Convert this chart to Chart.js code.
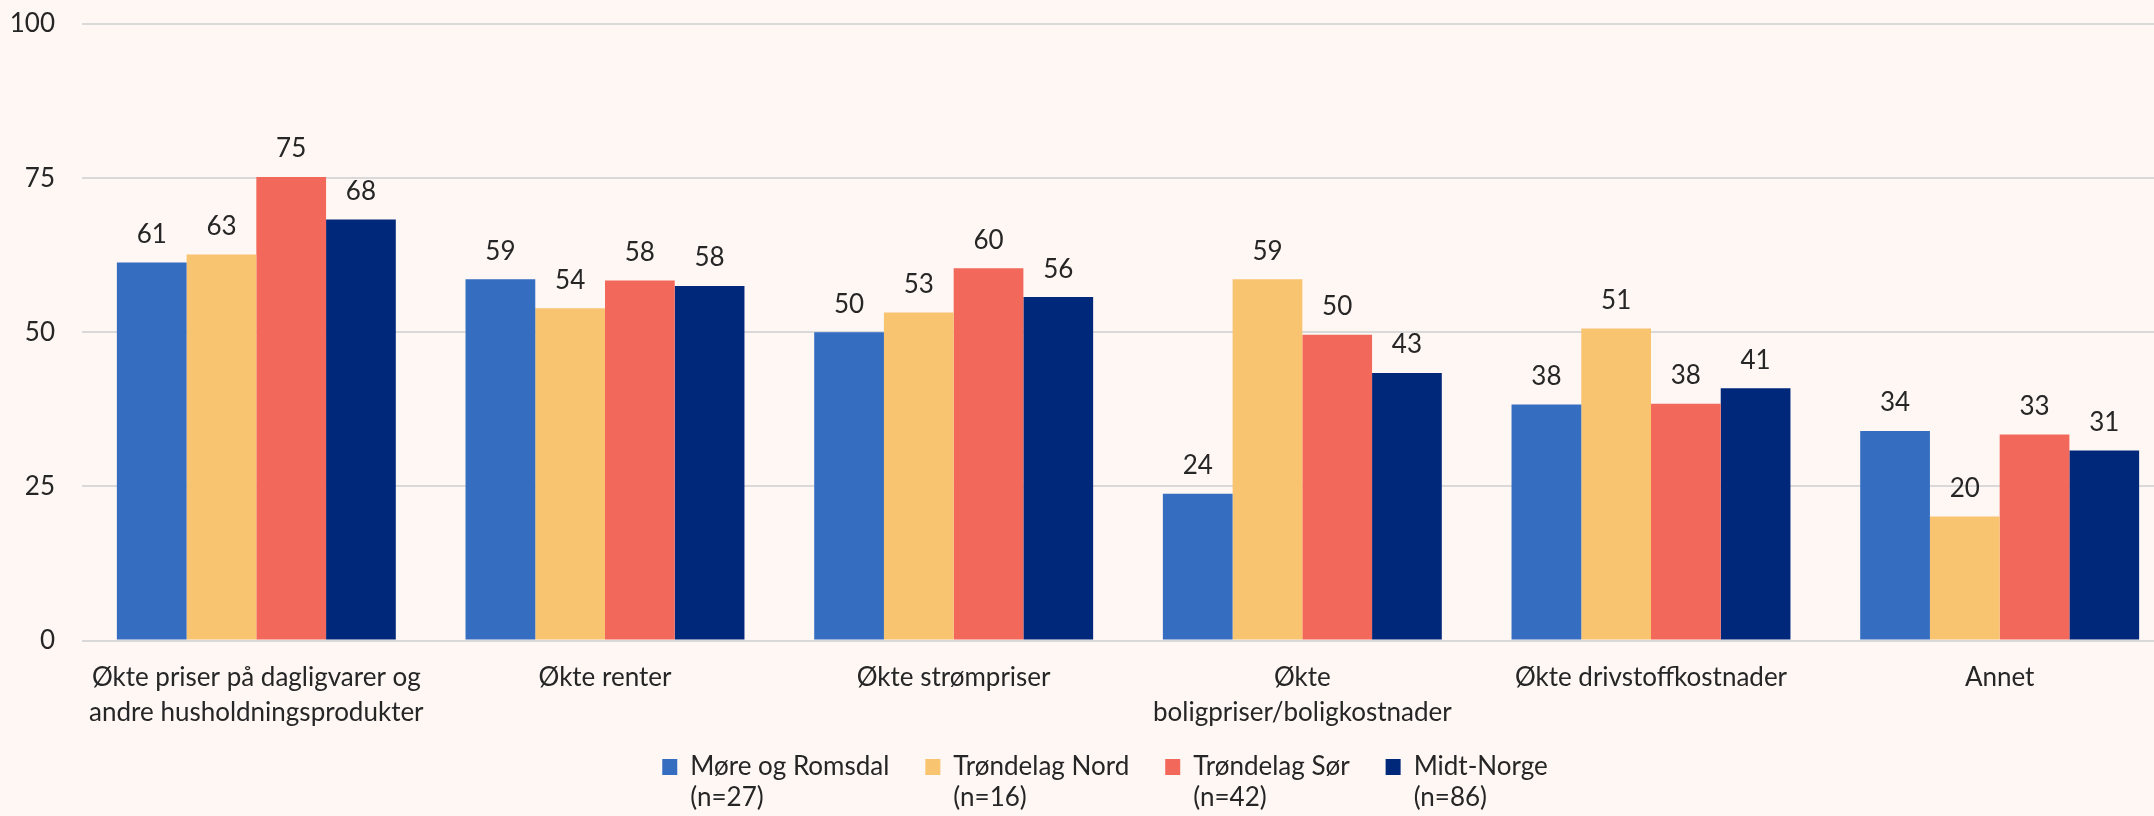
<!DOCTYPE html>
<html>
<head>
<meta charset="utf-8">
<script src="https://cdn.jsdelivr.net/npm/chart.js@4.4.1/dist/chart.umd.min.js"></script>
<style>
  body { margin: 0; background: #fef7f4; overflow: hidden; }
  #wrap { position: absolute; left: 0; top: 0; width: 2210px; height: 816px; }
</style>
</head>
<body>
<div id="wrap"><canvas id="chart" width="2210" height="816"></canvas></div>
<script>
// categories (x axis), split into lines
const categories = [
    ['Økte priser på dagligvarer og', 'andre husholdningsprodukter'],
    ['Økte renter'],
    ['Økte strømpriser'],
    ['Økte', 'boligpriser/boligkostnader'],
    ['Økte drivstoffkostnader'],
    ['Annet']
];

// series
const seriesNames = ['Møre og Romsdal', 'Trøndelag Nord', 'Trøndelag Sør', 'Midt-Norge'];
const seriesN = [27, 16, 42, 86];
const seriesColors = ['#356dc0', '#f9c470', '#f2695c', '#00287a'];

const moreRomsdal = [61.3, 58.6, 50.0, 23.8, 38.3, 34.0];
const trondelagNord = [62.6, 53.9, 53.2, 58.6, 50.6, 20.1];
const trondelagSor = [75.2, 58.4, 60.4, 49.6, 38.4, 33.4];
const midtNorge = [68.3, 57.5, 55.7, 43.4, 40.9, 30.8];

const yTicks = [0, 25, 50, 75, 100];

const FONT = 'Lato';
const FSIZE = 26;
const textColor = '#262626';

const allData = [moreRomsdal, trondelagNord, trondelagSor, midtNorge];

// value labels above the bars
const valueLabels = {
    id: 'valueLabels',
    afterDatasetsDraw(chart) {
        const ctx = chart.ctx;
        ctx.save();
        ctx.font = FSIZE + 'px ' + FONT;
        ctx.fillStyle = textColor;
        ctx.textAlign = 'center';
        ctx.textBaseline = 'middle';
        chart.data.datasets.forEach((ds, i) => {
            chart.getDatasetMeta(i).data.forEach((bar, j) => {
                ctx.fillText(Math.round(ds.data[j]), bar.x, bar.y - 28);
            });
        });
        ctx.restore();
    }
};

// second legend line: (n=..)
const legendCounts = {
    id: 'legendCounts',
    afterDraw(chart) {
        const boxes = chart.legend.legendHitBoxes;
        const ctx = chart.ctx;
        ctx.save();
        ctx.font = FSIZE + 'px ' + FONT;
        ctx.fillStyle = textColor;
        ctx.textAlign = 'left';
        ctx.textBaseline = 'middle';
        boxes.forEach((hb, i) => {
            ctx.fillText('(n=' + seriesN[i] + ')', hb.left + 15 + FSIZE / 2, hb.top + FSIZE / 2 + 31);
        });
        ctx.restore();
    }
};

const chart = new Chart(document.getElementById('chart'), {
    type: 'bar',
    data: {
        labels: categories,
        datasets: seriesNames.map((name, i) => ({
            label: name,
            data: allData[i],
            backgroundColor: seriesColors[i],
            borderWidth: 0,
            categoryPercentage: 0.8,
            barPercentage: 1.0
        }))
    },
    options: {
        responsive: false,
        devicePixelRatio: 1,
        animation: false,
        layout: { padding: { top: 24, right: 0, left: 0, bottom: 26 } },
        plugins: {
            tooltip: { enabled: false },
            legend: {
                position: 'bottom',
                labels: {
                    color: textColor,
                    font: { family: FONT, size: FSIZE },
                    boxWidth: 15,
                    boxHeight: 16,
                    padding: 36
                }
            }
        },
        scales: {
            x: {
                grid: { display: false, drawTicks: false },
                border: { display: false },
                ticks: {
                    color: textColor,
                    font: { family: FONT, size: FSIZE, lineHeight: 1.36 },
                    padding: 19,
                    maxRotation: 0,
                    autoSkip: false
                },
                afterFit: (scale) => {
                    scale.height = 77.5;
                    scale.paddingRight = 36;
                    // let the two-line labels run past the axis box
                    scale._computeLabelArea = () => null;
                }
            },
            y: {
                min: 0,
                max: 100,
                afterBuildTicks: (scale) => { scale.ticks = yTicks.map(v => ({ value: v })); },
                grid: { color: '#d9d9d9', lineWidth: 2, drawTicks: false },
                border: { display: false },
                ticks: {
                    color: textColor,
                    font: { family: FONT, size: FSIZE },
                    padding: 27
                },
                afterFit: (scale) => {
                    scale.width = 82;
                    scale.paddingTop = 0;
                    scale.paddingBottom = 0;
                }
            }
        }
    },
    plugins: [valueLabels, legendCounts]
});
</script>
</body>
</html>
